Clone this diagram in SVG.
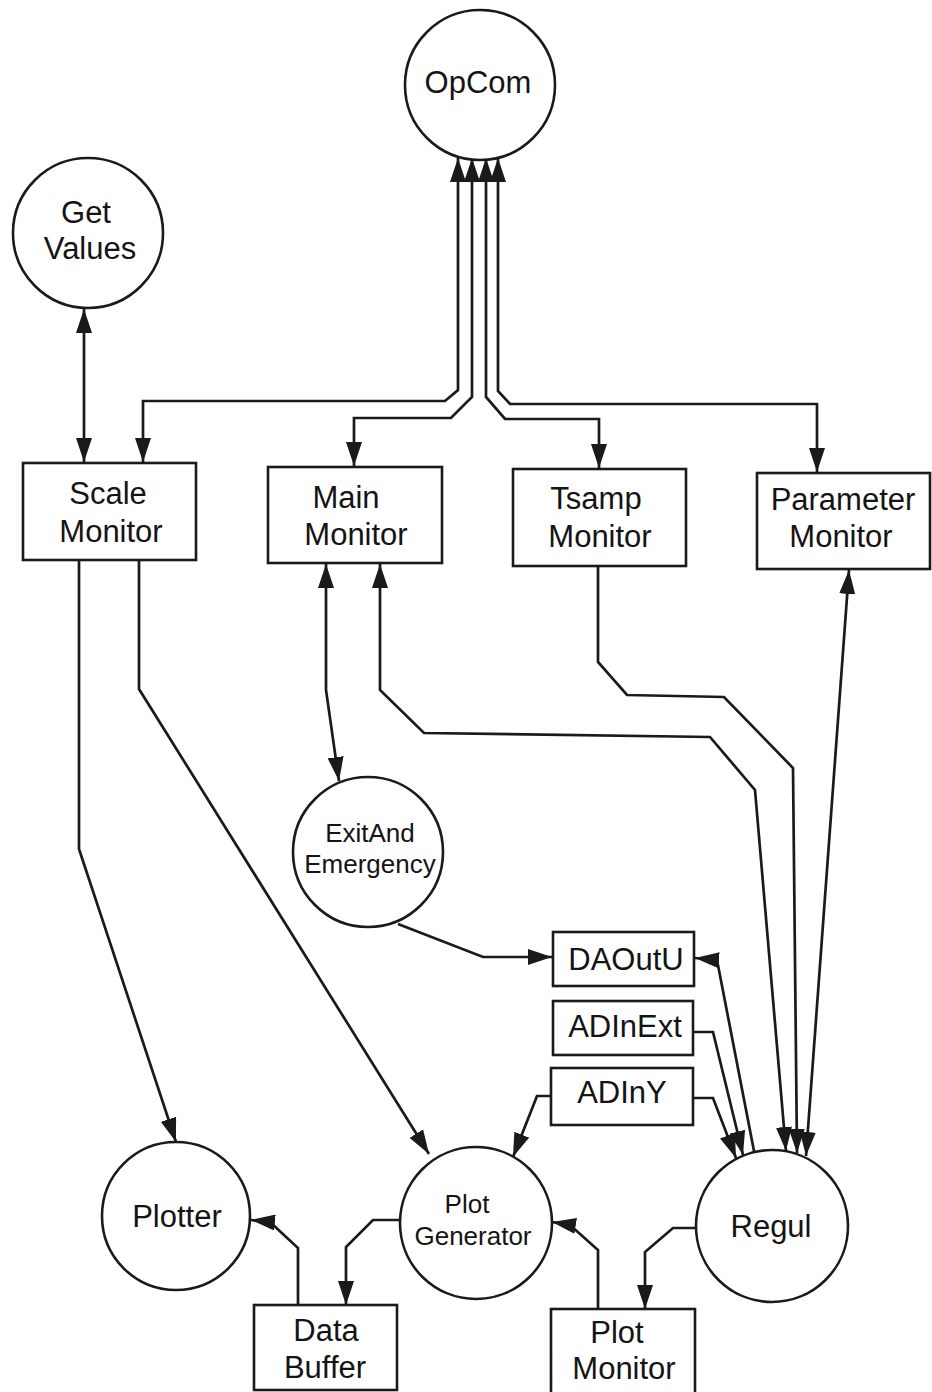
<svg xmlns="http://www.w3.org/2000/svg" width="932" height="1392" viewBox="0 0 932 1392">
  <style>
    .proc { fill: #ffffff; stroke: #1a1a1a; stroke-width: 2.6; }
    .box { fill: #ffffff; stroke: #1a1a1a; stroke-width: 2.6; }
    .lbl { font-family: "Liberation Sans", Arial, sans-serif; font-size: 31px; fill: #141414; text-anchor: middle; }
    .sm { font-size: 26px; }
    .wire { fill: none; stroke: #1a1a1a; stroke-width: 2.7; stroke-linejoin: miter; }
    .one { marker-end: url(#head); }
    .two { marker-start: url(#head); marker-end: url(#head); }
  </style>
  <defs>
    <marker id="head" markerUnits="userSpaceOnUse" markerWidth="25" markerHeight="16" refX="24" refY="8" orient="auto-start-reverse" viewBox="0 0 25 16">
      <path d="M0,0 L24,8 L0,16 z" fill="#1a1a1a"/>
    </marker>
  </defs>
  <rect width="932" height="1392" fill="#ffffff"/>

  <!-- connectors -->
  <g id="connectors">
    <!-- Get Values <-> Scale Monitor -->
    <path class="wire two" d="M84,309 L84,462"/>
    <!-- OpCom <-> four monitors -->
    <path class="wire two" d="M458,158 L458,390 L445,401 L143,401 L143,462"/>
    <path class="wire two" d="M472,158 L472,397 L451,418 L354,418 L354,466"/>
    <path class="wire two" d="M486,158 L486,397 L505,419 L599,419 L599,468"/>
    <path class="wire two" d="M498,158 L498,391 L510,404 L817,404 L817,472"/>
    <!-- Scale Monitor -> Plotter / Plot Generator -->
    <path class="wire one" d="M79,560 L79,849 L176,1142"/>
    <path class="wire one" d="M139,560 L139,689 L429,1154"/>
    <!-- Main Monitor <-> ExitAndEmergency -->
    <path class="wire two" d="M326,564 L326,690 L339,781"/>
    <!-- Main Monitor <-> Regul -->
    <path class="wire two" d="M380,564 L380,690 L424,733 L710,737 L755,790 L786,1151"/>
    <!-- Tsamp Monitor -> Regul -->
    <path class="wire one" d="M598,566 L598,662 L627,695 L724,697 L793,768 L797,1153"/>
    <!-- Parameter Monitor <-> Regul -->
    <path class="wire two" d="M849,570 L806,1156"/>
    <!-- ExitAndEmergency -> DAOutU -->
    <path class="wire one" d="M398,924 L483,957 L552,957"/>
    <!-- Regul -> DAOutU -->
    <path class="wire one" d="M754,1151 L717,960 L695,958"/>
    <!-- ADInExt -> Regul -->
    <path class="wire one" d="M693,1032 L713,1032 L743,1155"/>
    <!-- ADInY -> Regul -->
    <path class="wire one" d="M693,1098 L713,1098 L736,1158"/>
    <!-- ADInY -> Plot Generator -->
    <path class="wire one" d="M551,1096 L537,1096 L513,1157"/>
    <!-- Plot Generator -> Data Buffer -->
    <path class="wire one" d="M401,1220 L373,1220 L346,1247 L346,1305"/>
    <!-- Data Buffer -> Plotter -->
    <path class="wire one" d="M298,1305 L298,1248 L270,1222 L251,1220"/>
    <!-- Plot Monitor -> Plot Generator -->
    <path class="wire one" d="M598,1309 L598,1250 L570,1225 L552,1222"/>
    <!-- Regul -> Plot Monitor -->
    <path class="wire one" d="M697,1228 L673,1228 L645,1252 L645,1309"/>
  </g>

  <!-- processes -->
  <g id="opcom">
    <circle class="proc" cx="480" cy="85" r="75"/>
    <text class="lbl" x="478" y="93">OpCom</text>
  </g>
  <g id="get-values">
    <circle class="proc" cx="88" cy="233" r="75"/>
    <text class="lbl" x="86" y="223">Get</text>
    <text class="lbl" x="90" y="259">Values</text>
  </g>
  <g id="exit-and-emergency">
    <circle class="proc" cx="368" cy="852" r="75"/>
    <text class="lbl sm" x="370" y="842">ExitAnd</text>
    <text class="lbl sm" x="370" y="873">Emergency</text>
  </g>
  <g id="plotter">
    <circle class="proc" cx="176" cy="1216" r="74"/>
    <text class="lbl" x="177" y="1227">Plotter</text>
  </g>
  <g id="plot-generator">
    <circle class="proc" cx="476" cy="1223" r="76"/>
    <text class="lbl sm" x="467" y="1213">Plot</text>
    <text class="lbl sm" x="473" y="1245">Generator</text>
  </g>
  <g id="regul">
    <circle class="proc" cx="772" cy="1226" r="76"/>
    <text class="lbl" x="771" y="1237">Regul</text>
  </g>

  <!-- monitors and data stores -->
  <g id="scale-monitor">
    <rect class="box" x="23" y="463" width="173" height="97"/>
    <text class="lbl" x="108" y="504">Scale</text>
    <text class="lbl" x="111" y="542">Monitor</text>
  </g>
  <g id="main-monitor">
    <rect class="box" x="268" y="467" width="174" height="96"/>
    <text class="lbl" x="346" y="508">Main</text>
    <text class="lbl" x="356" y="545">Monitor</text>
  </g>
  <g id="tsamp-monitor">
    <rect class="box" x="513" y="469" width="173" height="97"/>
    <text class="lbl" x="596" y="509">Tsamp</text>
    <text class="lbl" x="600" y="547">Monitor</text>
  </g>
  <g id="parameter-monitor">
    <rect class="box" x="757" y="473" width="173" height="96"/>
    <text class="lbl" x="843" y="510">Parameter</text>
    <text class="lbl" x="841" y="547">Monitor</text>
  </g>
  <g id="daoutu">
    <rect class="box" x="553" y="932" width="141" height="54"/>
    <text class="lbl" x="626" y="970">DAOutU</text>
  </g>
  <g id="adinext">
    <rect class="box" x="553" y="1001" width="140" height="54"/>
    <text class="lbl" x="625" y="1037">ADInExt</text>
  </g>
  <g id="adiny">
    <rect class="box" x="551" y="1068" width="142" height="57"/>
    <text class="lbl" x="622" y="1103">ADInY</text>
  </g>
  <g id="data-buffer">
    <rect class="box" x="254" y="1305" width="143" height="85"/>
    <text class="lbl" x="326" y="1341">Data</text>
    <text class="lbl" x="325" y="1378">Buffer</text>
  </g>
  <g id="plot-monitor">
    <rect class="box" x="551" y="1309" width="144" height="85"/>
    <text class="lbl" x="617" y="1343">Plot</text>
    <text class="lbl" x="624" y="1379">Monitor</text>
  </g>
</svg>
